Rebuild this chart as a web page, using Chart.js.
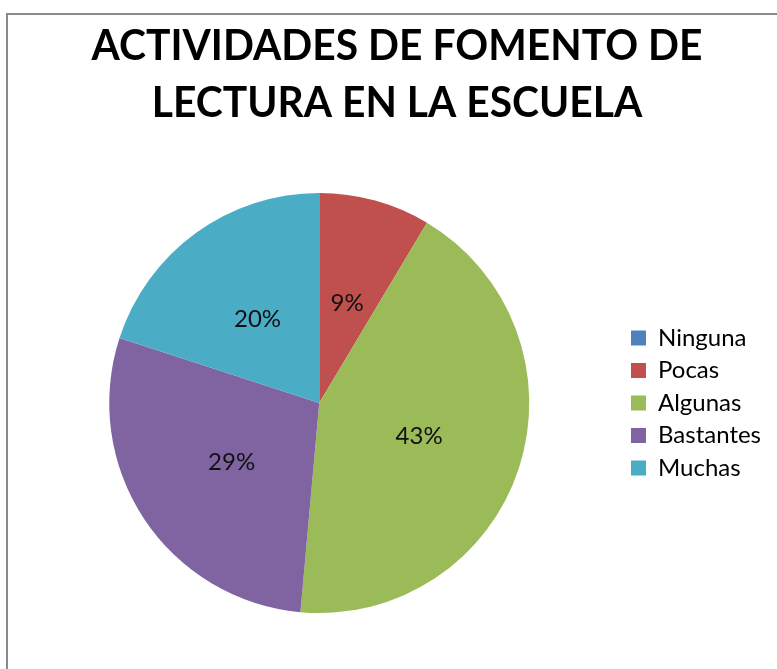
<!DOCTYPE html>
<html>
<head>
<meta charset="utf-8">
<script src="https://cdn.jsdelivr.net/npm/chart.js@4.4.1/dist/chart.umd.min.js"></script>
<style>
  html, body { margin: 0; padding: 0; background: #ffffff; }
  #wrap { width: 777px; height: 669px; }
</style>
</head>
<body>
<div id="wrap"><canvas id="chart" width="777" height="669"></canvas></div>
<script>
// Survey answers: how many reading-promotion activities the school runs
const categories = ['Ninguna', 'Pocas', 'Algunas', 'Bastantes', 'Muchas'];
const responses = [0, 3, 15, 10, 7];
const sliceColors = ['#4F81BD', '#C0504D', '#9BBB59', '#8064A2', '#4BACC6'];
const titleLines = ['ACTIVIDADES DE FOMENTO DE', 'LECTURA EN LA ESCUELA'];

const total = responses.reduce((a, b) => a + b, 0);
const pct = v => Math.round(v / total * 100) + '%';

// White page with the grey frame around the chart
const framePlugin = {
  id: 'frame',
  beforeDraw(chart) {
    const ctx = chart.ctx;
    ctx.save();
    ctx.fillStyle = '#ffffff';
    ctx.fillRect(0, 0, chart.width, chart.height);
    ctx.strokeStyle = '#8a8a8a';
    ctx.lineWidth = 2;
    ctx.strokeRect(7, 14, chart.width + 20, chart.height + 20);
    ctx.restore();
  }
};

// Two-line bold heading, condensed to the heading width
const headingPlugin = {
  id: 'heading',
  afterDraw(chart) {
    const ctx = chart.ctx;
    ctx.save();
    ctx.font = 'bold 42px Lato';
    ctx.fillStyle = '#000000';
    ctx.textAlign = 'left';
    ctx.textBaseline = 'alphabetic';
    const sx = 611 / ctx.measureText(titleLines[0]).width;
    const cx = 397;
    const baselines = [60, 117];
    titleLines.forEach((line, i) => {
      const w = ctx.measureText(line).width * sx;
      ctx.save();
      ctx.translate(cx - w / 2, baselines[i]);
      ctx.scale(sx, 1);
      ctx.fillText(line, 0, 0);
      ctx.restore();
    });
    ctx.restore();
  }
};

// Percentage written at the middle of every non-empty slice
const sliceLabelPlugin = {
  id: 'sliceLabels',
  afterDatasetsDraw(chart) {
    const ctx = chart.ctx;
    const meta = chart.getDatasetMeta(0);
    ctx.save();
    ctx.font = '24px Lato';
    ctx.fillStyle = '#111111';
    ctx.textAlign = 'center';
    ctx.textBaseline = 'alphabetic';
    meta.data.forEach((arc, i) => {
      const v = chart.data.datasets[0].data[i];
      if (!v) return;
      const p = arc.getCenterPoint();
      ctx.fillText(pct(v), p.x, p.y + 9);
    });
    ctx.restore();
  }
};

new Chart(document.getElementById('chart'), {
  type: 'pie',
  data: {
    labels: categories,
    datasets: [{
      data: responses,
      backgroundColor: sliceColors,
      borderWidth: 0
    }]
  },
  options: {
    responsive: false,
    animation: false,
    layout: { padding: { top: 193, bottom: 56, left: 16, right: 6 } },
    plugins: {
      title: { display: false },
      tooltip: { enabled: false },
      legend: {
        display: true,
        position: 'right',
        labels: {
          boxWidth: 15,
          boxHeight: 15,
          padding: 8.5,
          color: '#000000',
          font: { family: 'Lato', size: 24 }
        }
      }
    }
  },
  plugins: [framePlugin, headingPlugin, sliceLabelPlugin]
});
</script>
</body>
</html>
